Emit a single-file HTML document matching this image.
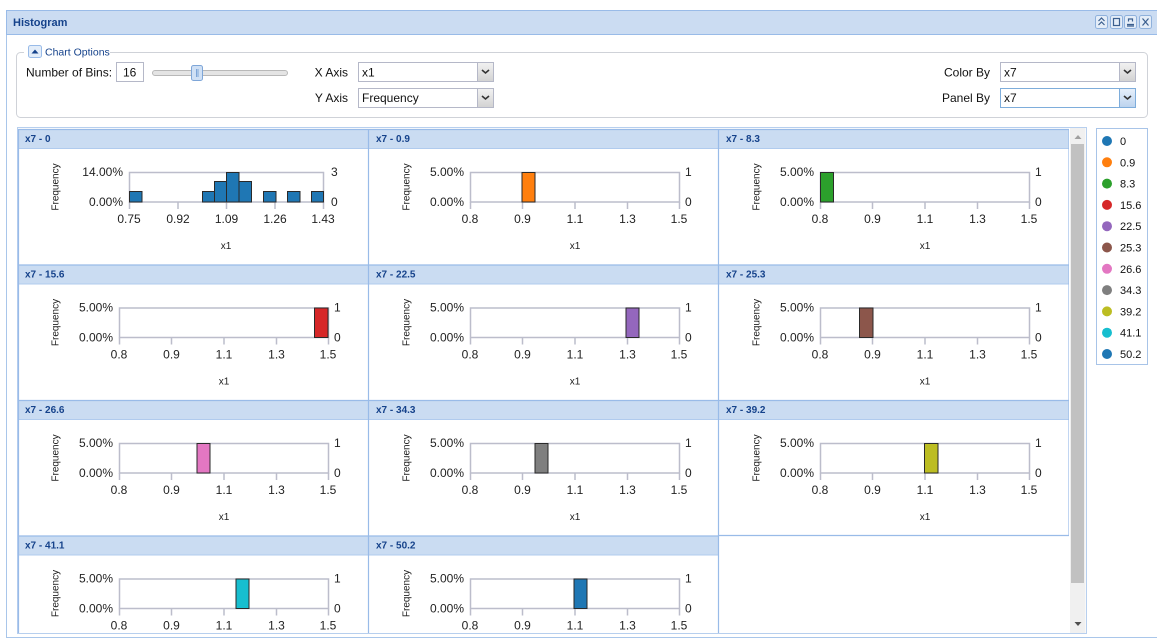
<!DOCTYPE html>
<html><head><meta charset="utf-8">
<style>
html,body{margin:0;padding:0;background:#fff;width:1157px;height:644px;overflow:hidden}
svg{display:block;font-family:"Liberation Sans",sans-serif}
.ht{font-size:10px;font-weight:bold;fill:#15428b}
.fq{font-size:10px;fill:#222;text-anchor:middle}
.fr{fill:#fff;stroke:#bcbdcb;stroke-width:1.5}
.tk{stroke:#bcbdcb;stroke-width:1.5;fill:none}
.yl{font-size:12px;fill:#222;text-anchor:end}
.yr{font-size:12px;fill:#222}
.xl{font-size:12px;fill:#222;text-anchor:middle}
.xt{font-size:10px;fill:#222;text-anchor:middle}
.lab{font-size:12px;fill:#111}
.lg{font-size:11px;fill:#111}
.br{stroke:#2a2a2a;stroke-width:1}
</style></head><body>
<svg width="1157" height="644" viewBox="0 0 1157 644" xmlns="http://www.w3.org/2000/svg">
<defs>
<linearGradient id="btn" x1="0" y1="0" x2="0" y2="1"><stop offset="0" stop-color="#f2f2f2"/><stop offset="1" stop-color="#d2d2d2"/></linearGradient>
<linearGradient id="btnb" x1="0" y1="0" x2="0" y2="1"><stop offset="0" stop-color="#e6f0fb"/><stop offset="1" stop-color="#bcd3ee"/></linearGradient>
<clipPath id="cp"><rect x="17" y="127" width="1052" height="506"/></clipPath>
</defs>

<!-- window -->
<rect x="6.5" y="10.5" width="1152" height="627" fill="#fff" stroke="#a9c6ea"/>
<rect x="6.5" y="10.5" width="1152" height="24" fill="#cbdcf2" stroke="#99bbe8"/>
<text x="13" y="26" style="font-size:11px;font-weight:bold;fill:#15428b">Histogram</text>
<!-- title icons -->
<g stroke="#8fb1dc" fill="#e4edf8">
<rect x="1095.5" y="15.5" width="12" height="13" rx="2"/>
<rect x="1110.5" y="15.5" width="12" height="13" rx="2"/>
<rect x="1124.5" y="15.5" width="12" height="13" rx="2"/>
<rect x="1139.5" y="15.5" width="12" height="13" rx="2"/>
</g>
<g stroke="#3b5f8f" fill="none" stroke-width="1.2">
<path d="M1098.5 21l3-3 3 3M1098.5 25l3-3 3 3"/>
<rect x="1113.5" y="18.5" width="6" height="7"/>
<path d="M1127 24.5h7M1127 26h7M1128.5 21.5v-2.5h4v2.5"/>
<path d="M1142.5 18.5l6 7M1148.5 18.5l-6 7"/>
</g>

<!-- chart options fieldset -->
<rect x="16.5" y="52.5" width="1131" height="65" rx="4" fill="none" stroke="#cfd2d8"/>
<rect x="24" y="46" width="86" height="12" fill="#fff"/>
<rect x="28.5" y="45.5" width="13" height="12" rx="2" fill="#e3edf9" stroke="#99bbe8"/>
<path d="M31.5 53.5l3.5-4 3.5 4z" fill="#15428b"/>
<text x="45" y="55.5" style="font-size:10.5px;fill:#15428b">Chart Options</text>

<text x="26" y="76.5" class="lab">Number of Bins:</text>
<rect x="116.5" y="62.5" width="27" height="19" fill="#fff" stroke="#b5b8c8"/>
<text x="123" y="76.5" class="lab">16</text>
<rect x="152.5" y="70.5" width="135" height="5" rx="2.5" fill="#e4e4e4" stroke="#b8b8b8"/>
<rect x="191.5" y="65.5" width="11" height="15" rx="2" fill="#cfe0f5" stroke="#7ea6d8"/>
<path d="M196.5 69v8M198 69v8" stroke="#7ea6d8"/>

<text x="348" y="76.5" class="lab" text-anchor="end">X Axis</text>
<rect x="358.5" y="62.5" width="135" height="19" fill="#fff" stroke="#b5b8c8"/>
<rect x="477.5" y="62.5" width="16" height="19" fill="url(#btn)" stroke="#b5b8c8"/>
<path d="M482 70l3.5 3 3.5-3" stroke="#333" stroke-width="1.6" fill="none"/>
<text x="362" y="76.5" class="lab">x1</text>

<text x="348" y="102" class="lab" text-anchor="end">Y Axis</text>
<rect x="358.5" y="88.5" width="135" height="19" fill="#fff" stroke="#b5b8c8"/>
<rect x="477.5" y="88.5" width="16" height="19" fill="url(#btn)" stroke="#b5b8c8"/>
<path d="M482 96l3.5 3 3.5-3" stroke="#333" stroke-width="1.6" fill="none"/>
<text x="362" y="102" class="lab">Frequency</text>

<text x="990" y="76.5" class="lab" text-anchor="end">Color By</text>
<rect x="1000.5" y="62.5" width="135" height="19" fill="#fff" stroke="#b5b8c8"/>
<rect x="1119.5" y="62.5" width="16" height="19" fill="url(#btn)" stroke="#b5b8c8"/>
<path d="M1124 70l3.5 3 3.5-3" stroke="#333" stroke-width="1.6" fill="none"/>
<text x="1004" y="76.5" class="lab">x7</text>

<text x="990" y="102" class="lab" text-anchor="end">Panel By</text>
<rect x="1000.5" y="88.5" width="135" height="19" fill="#fff" stroke="#7eaddb"/>
<rect x="1119.5" y="88.5" width="16" height="19" fill="url(#btnb)" stroke="#7eaddb"/>
<path d="M1124 96l3.5 3 3.5-3" stroke="#333" stroke-width="1.6" fill="none"/>
<text x="1004" y="102" class="lab">x7</text>

<!-- panels container -->
<rect x="17.5" y="127.5" width="1069" height="506" fill="#fff" stroke="#b7cfee"/>
<g clip-path="url(#cp)">

<!-- Panel x7 - 0 (special) -->
<g>
<rect x="18" y="129" width="350" height="19" fill="#cadcf2"/>
<line x1="18" y1="148.5" x2="368" y2="148.5" stroke="#b0cbee"/>
<text x="25" y="142" class="ht">x7 - 0</text>
<text transform="translate(58.5,187) rotate(-90)" class="fq">Frequency</text>
<rect x="129.5" y="172.5" width="194" height="29.5" class="fr"/>
<path d="M129.5 202v7M178 202v7M226.5 202v7M275 202v7M323.5 202v7" class="tk"/>
<text x="123" y="176" class="yl">14.00%</text>
<text x="123" y="206" class="yl">0.00%</text>
<text x="331" y="176" class="yr">3</text>
<text x="331" y="206" class="yr">0</text>
<text x="129" y="223" class="xl">0.75</text>
<text x="178" y="223" class="xl">0.92</text>
<text x="226.5" y="223" class="xl">1.09</text>
<text x="275" y="223" class="xl">1.26</text>
<text x="323" y="223" class="xl">1.43</text>
<text x="226" y="249" class="xt">x1</text>
<g fill="#1f77b4" class="br">
<rect x="129.5" y="191.5" width="12.5" height="10.5"/>
<rect x="202.5" y="191.5" width="12" height="10.5"/>
<rect x="214.5" y="181.5" width="12" height="20.5"/>
<rect x="226.5" y="172.5" width="12.5" height="29.5"/>
<rect x="239" y="181.5" width="12.5" height="20.5"/>
<rect x="263.5" y="191.5" width="12.5" height="10.5"/>
<rect x="287.5" y="191.5" width="12.5" height="10.5"/>
<rect x="311.5" y="191.5" width="12" height="10.5"/>
</g>
</g>

<!-- standard panel template instances -->
<g transform="translate(351,0)">
<rect x="18" y="129" width="350" height="19" fill="#cadcf2"/><line x1="18" y1="148.5" x2="368" y2="148.5" stroke="#b0cbee"/>
<text x="25" y="142" class="ht">x7 - 0.9</text>
<text transform="translate(58.5,187) rotate(-90)" class="fq">Frequency</text>
<rect x="119.5" y="172.5" width="209" height="29.5" class="fr"/>
<path d="M119.5 202v7M171.5 202v7M224 202v7M276.5 202v7M328.5 202v7" class="tk"/>
<text x="113" y="176" class="yl">5.00%</text><text x="113" y="206" class="yl">0.00%</text>
<text x="334" y="176" class="yr">1</text><text x="334" y="206" class="yr">0</text>
<text x="119" y="223" class="xl">0.8</text><text x="171.5" y="223" class="xl">0.9</text><text x="224" y="223" class="xl">1.1</text><text x="276.5" y="223" class="xl">1.3</text><text x="328" y="223" class="xl">1.5</text>
<text x="224" y="249" class="xt">x1</text>
<rect x="171" y="172.5" width="13" height="29.5" fill="#ff7f0e" class="br"/>
</g>

<g transform="translate(701,0)">
<rect x="18" y="129" width="350" height="19" fill="#cadcf2"/><line x1="18" y1="148.5" x2="368" y2="148.5" stroke="#b0cbee"/>
<text x="25" y="142" class="ht">x7 - 8.3</text>
<text transform="translate(58.5,187) rotate(-90)" class="fq">Frequency</text>
<rect x="119.5" y="172.5" width="209" height="29.5" class="fr"/>
<path d="M119.5 202v7M171.5 202v7M224 202v7M276.5 202v7M328.5 202v7" class="tk"/>
<text x="113" y="176" class="yl">5.00%</text><text x="113" y="206" class="yl">0.00%</text>
<text x="334" y="176" class="yr">1</text><text x="334" y="206" class="yr">0</text>
<text x="119" y="223" class="xl">0.8</text><text x="171.5" y="223" class="xl">0.9</text><text x="224" y="223" class="xl">1.1</text><text x="276.5" y="223" class="xl">1.3</text><text x="328" y="223" class="xl">1.5</text>
<text x="224" y="249" class="xt">x1</text>
<rect x="119.5" y="172.5" width="13" height="29.5" fill="#2ca02c" class="br"/>
</g>

<g transform="translate(0,135.5)">
<rect x="18" y="129" width="350" height="19" fill="#cadcf2"/><line x1="18" y1="148.5" x2="368" y2="148.5" stroke="#b0cbee"/>
<text x="25" y="142" class="ht">x7 - 15.6</text>
<text transform="translate(58.5,187) rotate(-90)" class="fq">Frequency</text>
<rect x="119.5" y="172.5" width="209" height="29.5" class="fr"/>
<path d="M119.5 202v7M171.5 202v7M224 202v7M276.5 202v7M328.5 202v7" class="tk"/>
<text x="113" y="176" class="yl">5.00%</text><text x="113" y="206" class="yl">0.00%</text>
<text x="334" y="176" class="yr">1</text><text x="334" y="206" class="yr">0</text>
<text x="119" y="223" class="xl">0.8</text><text x="171.5" y="223" class="xl">0.9</text><text x="224" y="223" class="xl">1.1</text><text x="276.5" y="223" class="xl">1.3</text><text x="328" y="223" class="xl">1.5</text>
<text x="224" y="249" class="xt">x1</text>
<rect x="314.5" y="172.5" width="13.5" height="29.5" fill="#d62728" class="br"/>
</g>

<g transform="translate(351,135.5)">
<rect x="18" y="129" width="350" height="19" fill="#cadcf2"/><line x1="18" y1="148.5" x2="368" y2="148.5" stroke="#b0cbee"/>
<text x="25" y="142" class="ht">x7 - 22.5</text>
<text transform="translate(58.5,187) rotate(-90)" class="fq">Frequency</text>
<rect x="119.5" y="172.5" width="209" height="29.5" class="fr"/>
<path d="M119.5 202v7M171.5 202v7M224 202v7M276.5 202v7M328.5 202v7" class="tk"/>
<text x="113" y="176" class="yl">5.00%</text><text x="113" y="206" class="yl">0.00%</text>
<text x="334" y="176" class="yr">1</text><text x="334" y="206" class="yr">0</text>
<text x="119" y="223" class="xl">0.8</text><text x="171.5" y="223" class="xl">0.9</text><text x="224" y="223" class="xl">1.1</text><text x="276.5" y="223" class="xl">1.3</text><text x="328" y="223" class="xl">1.5</text>
<text x="224" y="249" class="xt">x1</text>
<rect x="275" y="172.5" width="13" height="29.5" fill="#9467bd" class="br"/>
</g>

<g transform="translate(701,135.5)">
<rect x="18" y="129" width="350" height="19" fill="#cadcf2"/><line x1="18" y1="148.5" x2="368" y2="148.5" stroke="#b0cbee"/>
<text x="25" y="142" class="ht">x7 - 25.3</text>
<text transform="translate(58.5,187) rotate(-90)" class="fq">Frequency</text>
<rect x="119.5" y="172.5" width="209" height="29.5" class="fr"/>
<path d="M119.5 202v7M171.5 202v7M224 202v7M276.5 202v7M328.5 202v7" class="tk"/>
<text x="113" y="176" class="yl">5.00%</text><text x="113" y="206" class="yl">0.00%</text>
<text x="334" y="176" class="yr">1</text><text x="334" y="206" class="yr">0</text>
<text x="119" y="223" class="xl">0.8</text><text x="171.5" y="223" class="xl">0.9</text><text x="224" y="223" class="xl">1.1</text><text x="276.5" y="223" class="xl">1.3</text><text x="328" y="223" class="xl">1.5</text>
<text x="224" y="249" class="xt">x1</text>
<rect x="158.5" y="172.5" width="13.5" height="29.5" fill="#8c564b" class="br"/>
</g>

<g transform="translate(0,271)">
<rect x="18" y="129" width="350" height="19" fill="#cadcf2"/><line x1="18" y1="148.5" x2="368" y2="148.5" stroke="#b0cbee"/>
<text x="25" y="142" class="ht">x7 - 26.6</text>
<text transform="translate(58.5,187) rotate(-90)" class="fq">Frequency</text>
<rect x="119.5" y="172.5" width="209" height="29.5" class="fr"/>
<path d="M119.5 202v7M171.5 202v7M224 202v7M276.5 202v7M328.5 202v7" class="tk"/>
<text x="113" y="176" class="yl">5.00%</text><text x="113" y="206" class="yl">0.00%</text>
<text x="334" y="176" class="yr">1</text><text x="334" y="206" class="yr">0</text>
<text x="119" y="223" class="xl">0.8</text><text x="171.5" y="223" class="xl">0.9</text><text x="224" y="223" class="xl">1.1</text><text x="276.5" y="223" class="xl">1.3</text><text x="328" y="223" class="xl">1.5</text>
<text x="224" y="249" class="xt">x1</text>
<rect x="197" y="172.5" width="13" height="29.5" fill="#e377c2" class="br"/>
</g>

<g transform="translate(351,271)">
<rect x="18" y="129" width="350" height="19" fill="#cadcf2"/><line x1="18" y1="148.5" x2="368" y2="148.5" stroke="#b0cbee"/>
<text x="25" y="142" class="ht">x7 - 34.3</text>
<text transform="translate(58.5,187) rotate(-90)" class="fq">Frequency</text>
<rect x="119.5" y="172.5" width="209" height="29.5" class="fr"/>
<path d="M119.5 202v7M171.5 202v7M224 202v7M276.5 202v7M328.5 202v7" class="tk"/>
<text x="113" y="176" class="yl">5.00%</text><text x="113" y="206" class="yl">0.00%</text>
<text x="334" y="176" class="yr">1</text><text x="334" y="206" class="yr">0</text>
<text x="119" y="223" class="xl">0.8</text><text x="171.5" y="223" class="xl">0.9</text><text x="224" y="223" class="xl">1.1</text><text x="276.5" y="223" class="xl">1.3</text><text x="328" y="223" class="xl">1.5</text>
<text x="224" y="249" class="xt">x1</text>
<rect x="184" y="172.5" width="13" height="29.5" fill="#7f7f7f" class="br"/>
</g>

<g transform="translate(701,271)">
<rect x="18" y="129" width="350" height="19" fill="#cadcf2"/><line x1="18" y1="148.5" x2="368" y2="148.5" stroke="#b0cbee"/>
<text x="25" y="142" class="ht">x7 - 39.2</text>
<text transform="translate(58.5,187) rotate(-90)" class="fq">Frequency</text>
<rect x="119.5" y="172.5" width="209" height="29.5" class="fr"/>
<path d="M119.5 202v7M171.5 202v7M224 202v7M276.5 202v7M328.5 202v7" class="tk"/>
<text x="113" y="176" class="yl">5.00%</text><text x="113" y="206" class="yl">0.00%</text>
<text x="334" y="176" class="yr">1</text><text x="334" y="206" class="yr">0</text>
<text x="119" y="223" class="xl">0.8</text><text x="171.5" y="223" class="xl">0.9</text><text x="224" y="223" class="xl">1.1</text><text x="276.5" y="223" class="xl">1.3</text><text x="328" y="223" class="xl">1.5</text>
<text x="224" y="249" class="xt">x1</text>
<rect x="223.5" y="172.5" width="13.5" height="29.5" fill="#bcbd22" class="br"/>
</g>

<g transform="translate(0,406.5)">
<rect x="18" y="129" width="350" height="19" fill="#cadcf2"/><line x1="18" y1="148.5" x2="368" y2="148.5" stroke="#b0cbee"/>
<text x="25" y="142" class="ht">x7 - 41.1</text>
<text transform="translate(58.5,187) rotate(-90)" class="fq">Frequency</text>
<rect x="119.5" y="172.5" width="209" height="29.5" class="fr"/>
<path d="M119.5 202v7M171.5 202v7M224 202v7M276.5 202v7M328.5 202v7" class="tk"/>
<text x="113" y="176" class="yl">5.00%</text><text x="113" y="206" class="yl">0.00%</text>
<text x="334" y="176" class="yr">1</text><text x="334" y="206" class="yr">0</text>
<text x="119" y="223" class="xl">0.8</text><text x="171.5" y="223" class="xl">0.9</text><text x="224" y="223" class="xl">1.1</text><text x="276.5" y="223" class="xl">1.3</text><text x="328" y="223" class="xl">1.5</text>
<text x="224" y="249" class="xt">x1</text>
<rect x="236" y="172.5" width="13" height="29.5" fill="#17becf" class="br"/>
</g>

<g transform="translate(351,406.5)">
<rect x="18" y="129" width="350" height="19" fill="#cadcf2"/><line x1="18" y1="148.5" x2="368" y2="148.5" stroke="#b0cbee"/>
<text x="25" y="142" class="ht">x7 - 50.2</text>
<text transform="translate(58.5,187) rotate(-90)" class="fq">Frequency</text>
<rect x="119.5" y="172.5" width="209" height="29.5" class="fr"/>
<path d="M119.5 202v7M171.5 202v7M224 202v7M276.5 202v7M328.5 202v7" class="tk"/>
<text x="113" y="176" class="yl">5.00%</text><text x="113" y="206" class="yl">0.00%</text>
<text x="334" y="176" class="yr">1</text><text x="334" y="206" class="yr">0</text>
<text x="119" y="223" class="xl">0.8</text><text x="171.5" y="223" class="xl">0.9</text><text x="224" y="223" class="xl">1.1</text><text x="276.5" y="223" class="xl">1.3</text><text x="328" y="223" class="xl">1.5</text>
<text x="224" y="249" class="xt">x1</text>
<rect x="223" y="172.5" width="13" height="29.5" fill="#1f77b4" class="br"/>
</g>

<!-- panel borders -->
<g stroke="#99bbe8" stroke-width="1.2" fill="none">
<path d="M18 129.5H1069M18 265H1069M18 400.5H1069M18 536H718.5M718.5 535.5H1069"/>
<path d="M18.5 129V633M368.5 129V633M718.5 129V633M1069 129V535.5"/>
</g>
</g>

<!-- scrollbar -->
<rect x="1070" y="128" width="15.5" height="505" fill="#f0f0f0"/>
<path d="M1074.5 139l3.5-4 3.5 4z" fill="#a0a0a0"/>
<rect x="1071" y="144" width="13" height="439" fill="#c1c1c1"/>
<path d="M1074.5 622l3.5 4 3.5-4z" fill="#505050"/>

<!-- legend -->
<rect x="1096.5" y="128.5" width="51" height="236" fill="#fff" stroke="#a8c4e8"/>
<g>
<circle cx="1107" cy="141" r="5" fill="#1f77b4"/><text x="1120" y="145" class="lg">0</text>
<circle cx="1107" cy="162.3" r="5" fill="#ff7f0e"/><text x="1120" y="166.3" class="lg">0.9</text>
<circle cx="1107" cy="183.6" r="5" fill="#2ca02c"/><text x="1120" y="187.6" class="lg">8.3</text>
<circle cx="1107" cy="204.9" r="5" fill="#d62728"/><text x="1120" y="208.9" class="lg">15.6</text>
<circle cx="1107" cy="226.2" r="5" fill="#9467bd"/><text x="1120" y="230.2" class="lg">22.5</text>
<circle cx="1107" cy="247.5" r="5" fill="#8c564b"/><text x="1120" y="251.5" class="lg">25.3</text>
<circle cx="1107" cy="268.8" r="5" fill="#e377c2"/><text x="1120" y="272.8" class="lg">26.6</text>
<circle cx="1107" cy="290.1" r="5" fill="#7f7f7f"/><text x="1120" y="294.1" class="lg">34.3</text>
<circle cx="1107" cy="311.4" r="5" fill="#bcbd22"/><text x="1120" y="315.4" class="lg">39.2</text>
<circle cx="1107" cy="332.7" r="5" fill="#17becf"/><text x="1120" y="336.7" class="lg">41.1</text>
<circle cx="1107" cy="354" r="5" fill="#1f77b4"/><text x="1120" y="358" class="lg">50.2</text>
</g>
</svg>
</body></html>
